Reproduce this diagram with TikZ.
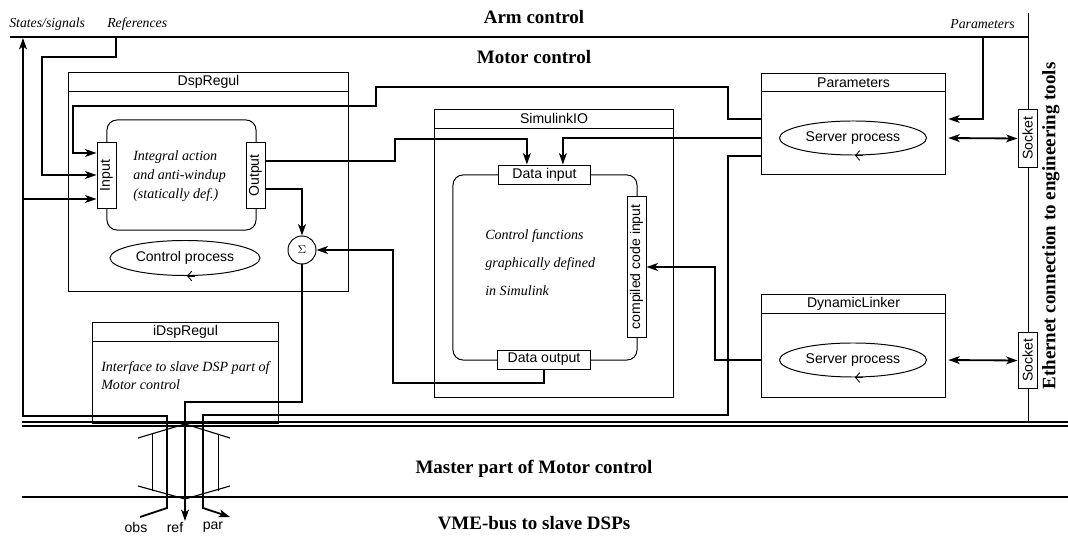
\documentclass[tikz,border=0pt]{standalone}
\usepackage{fontspec}
\setmainfont{Liberation Serif}
\setsansfont{Liberation Sans}
\usetikzlibrary{arrows.meta,calc,shapes.geometric,positioning}

\begin{document}
\begin{tikzpicture}[x=0.025cm,y=-0.025cm,
	>={Stealth[length=8pt,width=5.5pt,inset=2pt]},
	box/.style={draw,line width=0.7pt,inner sep=0pt},
	core/.style={draw,line width=0.7pt,rounded corners=0.25cm,inner sep=0pt},
	port/.style={draw,line width=0.7pt,fill=white,inner sep=0pt,font=\sffamily\fontsize{10}{12}\selectfont},
	proc/.style={draw,ellipse,line width=0.7pt,inner sep=0pt,font=\sffamily\fontsize{10}{12}\selectfont},
	boxtitle/.style={font=\sffamily\fontsize{10}{12}\selectfont},
	desc/.style={font=\itshape\fontsize{10}{13.5}\selectfont,align=left,anchor=west,inner sep=0pt},
	head/.style={font=\bfseries\fontsize{13.5}{16}\selectfont},
	buslabel/.style={font=\itshape\fontsize{9.8}{11}\selectfont,inner sep=0pt},
	conn/.style={line width=1.3pt},
	loop/.style={line width=0.6pt,-{Straight Barb[length=3pt,width=7pt]}}]
		\useasboundingbox (0,0) rectangle (1068,543);

		\coordinate(armW) at (10,37);
		\coordinate(armE) at (1028,37);
		\coordinate(ethN) at (1028,13);
		\coordinate(ethS) at (1028,422);
		\coordinate(stsig) at (23,38);
		\coordinate(refs) at (116,38);
		\coordinate(armpar) at (983,38);
		\coordinate(obsend) at (140,517);
		\coordinate(refend) at (185,521);
		\coordinate(parend) at (230,517);

		% busses
		\draw[line width=1.7pt] (armW) -- (armE);
		\draw[line width=0.7pt] (ethN) -- (ethS);
		\draw[line width=0.9pt] (22,422) -- (1068,422);
		\draw[line width=0.9pt] (22,426) -- (1068,426);
		\draw[line width=0.8pt] (22,497) -- (1068,497);

		\node[buslabel,anchor=west] (lstates) at (9,24) {States/signals};
		\node[buslabel,anchor=west] (lrefs) at (107,24) {References};
		\node[buslabel,anchor=east] (lparams) at (1015,24) {Parameters};
		\node[head] (arm) at (534,17) {Arm control};
		\node[head] (motor) at (534,57) {Motor control};
		\node[head] (master) at (534,469) {Master part of Motor control};
		\node[head] (vme) at (534,523) {VME-bus to slave DSPs};
		\node[head,rotate=90] (ether) at (1051,226) {Ethernet connection to engineering tools};

		% DspRegul
		\node[box,minimum width=6.975cm,minimum height=5.45cm] (dspregul) at (208.5,182) {};
		\draw[line width=0.7pt] ($(dspregul.north west)+(0,19)$) -- ($(dspregul.north east)+(0,19)$);
		\node[boxtitle] (dspname) at ($(dspregul.north)+(0,9.5)$) {DspRegul};
		\node[core,minimum width=3.725cm,minimum height=2.75cm] (dspcore) at (181.5,175) {};
		\node[port,minimum width=0.475cm,minimum height=1.625cm] (input) at (106.5,175.5) {\rotatebox{90}{Input}};
		\node[port,minimum width=0.475cm,minimum height=1.625cm] (output) at (255.5,175.5) {\rotatebox{90}{Output}};
		\node[desc] (dsptext) at (133,176) {Integral action\\and anti-windup\\(statically def.)};
		\node[proc,minimum width=3.75cm,minimum height=0.875cm] (ctrlproc) at (185,258) {Control process};
		\draw[loop] ([xshift=0.25cm]ctrlproc.south) -- ([xshift=0.05cm]ctrlproc.south);
		\node[draw,circle,line width=0.7pt,minimum size=0.7cm,inner sep=0pt] (sigma) at (302,250) {\footnotesize$\Sigma$};

		% iDspRegul
		\node[box,minimum width=4.625cm,minimum height=2.5cm] (idsp) at (185.5,373) {};
		\draw[line width=0.7pt] ($(idsp.north west)+(0,19)$) -- ($(idsp.north east)+(0,19)$);
		\node[boxtitle] (idspname) at ($(idsp.north)+(0,9.5)$) {iDspRegul};
		\node[desc,font=\itshape\fontsize{10}{12.8}\selectfont] (idsptext) at (101,376) {Interface to slave DSP part of\\Motor control};

		% SimulinkIO
		\node[box,minimum width=5.95cm,minimum height=7.175cm] (simio) at (554,253.5) {};
		\draw[line width=0.7pt] ($(simio.north west)+(0,19)$) -- ($(simio.north east)+(0,19)$);
		\node[boxtitle] (simname) at ($(simio.north)+(0,9.5)$) {SimulinkIO};
		\node[core,minimum width=4.6cm,minimum height=4.625cm] (simcore) at (545,267.5) {};
		\node[port,minimum width=2.275cm,minimum height=0.475cm] (dataIn) at (544.5,174.5) {Data input};
		\node[port,minimum width=2.3cm,minimum height=0.475cm] (dataOut) at (544,359.5) {Data output};
		\node[port,minimum width=0.475cm,minimum height=3.5cm] (ccin) at (636.5,267) {\rotatebox{90}{compiled code input}};
		\node[desc,font=\itshape\fontsize{10}{20}\selectfont] (simtext) at (485,263) {Control functions\\graphically defined\\in Simulink};

		% Parameters and DynamicLinker
		\node[box,minimum width=4.575cm,minimum height=2.5cm] (parbox) at (853.5,124) {};
		\draw[line width=0.7pt] ($(parbox.north west)+(0,18)$) -- ($(parbox.north east)+(0,18)$);
		\node[boxtitle] (parname) at ($(parbox.north)+(0,9)$) {Parameters};
		\node[proc,minimum width=3.675cm,minimum height=0.85cm] (srvpar) at (853,138) {Server process};
		\draw[loop] ([xshift=0.25cm]srvpar.south) -- ([xshift=0.05cm]srvpar.south);

		\node[box,minimum width=4.575cm,minimum height=2.55cm] (dynbox) at (853.5,346) {};
		\draw[line width=0.7pt] ($(dynbox.north west)+(0,19)$) -- ($(dynbox.north east)+(0,19)$);
		\node[boxtitle] (dynname) at ($(dynbox.north)+(0,9.5)$) {DynamicLinker};
		\node[proc,minimum width=3.675cm,minimum height=0.85cm] (srvdyn) at (853,360) {Server process};
		\draw[loop] ([xshift=0.25cm]srvdyn.south) -- ([xshift=0.05cm]srvdyn.south);

		\node[port,minimum width=0.475cm,minimum height=1.425cm] (sock1) at (1027.5,138.5) {\rotatebox{90}{Socket}};
		\node[port,minimum width=0.475cm,minimum height=1.375cm] (sock2) at (1027.5,360.5) {\rotatebox{90}{Socket}};

		% connections
		\draw[conn,->] (obsend) -- (167,508) |- (23,416) -- (stsig);
		\draw[conn,->] (stsig |- 0,199) -- (input.west |- 0,199);
		\draw[conn,->] (refs) |- (42,57) |- (input.west |- 0,175);
		\draw[conn,->] (parbox.west |- 0,119) -| (728,87) -| (376,106) -| (73,153) -- (input.west |- 0,153);
		\draw[conn,->] (output.east |- 0,161) -| (395,139) -| ([xshift=-0.44cm]dataIn.north);
		\draw[conn,->] (parbox.west |- 0,138) -| ([xshift=0.46cm]dataIn.north);
		\draw[conn,->] (output.east |- 0,189) -| (sigma.north);
		\draw[conn,->] (dataOut.south) |- (393,383) |- (sigma.east);
		\draw[conn,->] (sigma.south) |- (185,402) -- (refend);
		\draw[conn,->] (parbox.west |- 0,156) -| (728,415) -| (203,508) -- (parend);
		\draw[conn,->] (dynbox.west |- 0,360) -| (715,267) -- (ccin.east |- 0,267);
		\draw[conn,->,shorten >=2pt] (armpar) |- (parbox.east |- 0,119);
		\draw[conn,<->,shorten <=2pt] (parbox.east |- 0,138) -- (sock1.west);
		\draw[conn,<->,shorten <=2pt] (dynbox.east |- 0,360) -- (sock2.west);

		% bus transceiver
		\draw[line width=0.8pt] (138,438) -- (185,424) -- (230,438);
		\draw[line width=0.8pt] (138,486) -- (185,499) -- (230,486);
		\draw[line width=0.6pt] (152,434) -- (152,491) (218,434) -- (218,491);

		\node[boxtitle] (obs) at (136,527) {obs};
		\node[boxtitle] (ref) at (175,527) {ref};
		\node[boxtitle] (par) at (213,527) {par};

	\end{tikzpicture}
\end{document}
